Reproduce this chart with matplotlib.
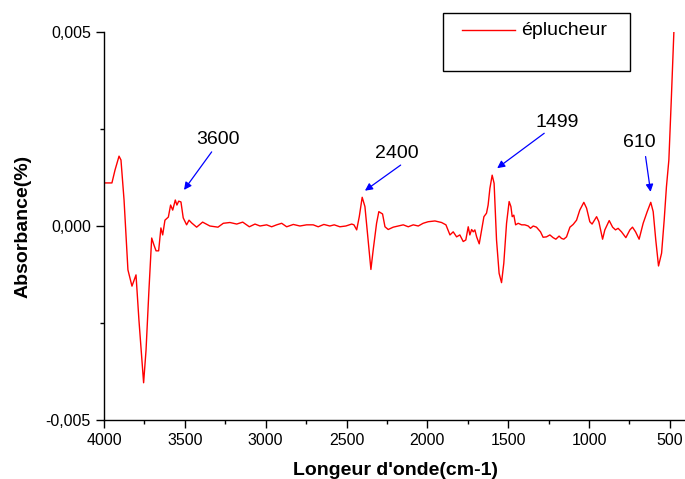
import numpy as np
import matplotlib
matplotlib.use('Agg')
import matplotlib.pyplot as plt
from matplotlib.ticker import MultipleLocator, FuncFormatter
from matplotlib.patches import Rectangle

plt.rcParams['font.family'] = ['Liberation Sans', 'DejaVu Sans']

# spectrum (wavenumber in cm-1, absorbance)
wavenumber = [4000, 3951, 3932, 3907, 3895, 3876, 3852, 3827, 3802, 3784, 3755, 3740, 3722, 3705,
              3691, 3678, 3662, 3648, 3637, 3623, 3602, 3588, 3575, 3559, 3549, 3538, 3524, 3510,
              3489, 3474, 3458, 3427, 3390, 3345, 3295, 3262, 3221, 3179, 3142, 3101, 3066, 3035,
              2994, 2963, 2932, 2901, 2870, 2829, 2788, 2747, 2706, 2675, 2640, 2603, 2576, 2541,
              2504, 2468, 2454, 2437, 2421, 2403, 2386, 2366, 2349, 2335, 2314, 2300, 2277, 2262,
              2242, 2211, 2180, 2149, 2118, 2087, 2056, 2026, 1995, 1953, 1912, 1885, 1860, 1840,
              1819, 1799, 1778, 1762, 1747, 1737, 1726, 1716, 1706, 1695, 1679, 1664, 1650, 1634,
              1624, 1613, 1599, 1587, 1572, 1556, 1541, 1527, 1510, 1494, 1483, 1475, 1465, 1454,
              1438, 1417, 1397, 1376, 1362, 1345, 1325, 1300, 1284, 1263, 1242, 1222, 1205, 1185,
              1170, 1156, 1139, 1118, 1098, 1077, 1057, 1032, 1015, 995, 981, 953, 939, 916, 902,
              875, 854, 836, 820, 799, 772, 747, 731, 712, 690, 665, 640, 618, 603, 587, 570, 551,
              535, 521, 506, 491, 475]
absorbance = [0.00111, 0.00111, 0.00144, 0.00180, 0.00170, 0.00067, -0.00113, -0.00155, -0.00126,
              -0.00242, -0.00404, -0.00320, -0.00165, -0.00031, -0.00049, -0.00064, -0.00064,
              -0.00005, -0.00023, 0.00015, 0.00023, 0.00054, 0.00041, 0.00067, 0.00054, 0.00064,
              0.00062, 0.00021, 0.00003, 0.00015, 0.00008, -0.00003, 0.00010, 0.0, -0.00003,
              0.00007, 0.00009, 0.00005, 0.00010, -0.00002, 0.00005, 0.0, 0.00003, -0.00002,
              0.00003, 0.00007, -0.00002, 0.00004, 0.0, 0.00003, 0.00003, -0.00002, 0.00004, 0.0,
              0.00003, -0.00002, 0.0, 0.00005, 0.00003, -0.00010, 0.00024, 0.00074, 0.00050,
              -0.00036, -0.00112, -0.00062, 0.00007, 0.00037, 0.00031, -0.00002, -0.00009,
              -0.00003, 0.0, 0.00003, -0.00002, 0.00003, 0.0, 0.00007, 0.00011, 0.00013, 0.00009,
              0.00003, -0.00023, -0.00015, -0.00028, -0.00023, -0.00040, -0.00036, -0.00002,
              -0.00023, -0.00009, -0.00015, -0.00010, -0.00028, -0.00046, -0.00010, 0.00024,
              0.00033, 0.00054, 0.00097, 0.00131, 0.00110, -0.00036, -0.00122, -0.00146, -0.00096,
              0.00007, 0.00063, 0.00050, 0.00024, 0.00028, 0.00003, 0.00007, 0.00003, 0.00003, 0.0,
              -0.00006, 0.0, -0.00003, -0.00015, -0.00029, -0.00028, -0.00023, -0.00030, -0.00034,
              -0.00026, -0.00032, -0.00034, -0.00028, -0.00003, 0.00004, 0.00015, 0.00041, 0.00061,
              0.00046, 0.00011, 0.00005, 0.00024, 0.00011, -0.00034, -0.00010, 0.00014, -0.00003,
              -0.00010, -0.00006, -0.00015, -0.00030, -0.00010, -0.00003, -0.00015, -0.00034,
              0.00007, 0.00037, 0.00061, 0.00037, -0.00036, -0.00103, -0.00070, 0.00015, 0.00101,
              0.00170, 0.00325, 0.00500]

# peak labels: text, arrow head (peak), arrow tail, text centre
peak_labels = ['3600', '2400', '1499', '610']
peak_head = [(3505, 0.00093), (2386, 0.00091), (1568, 0.00149), (619, 0.00088)]
peak_tail = [(3334, 0.00191), (2165, 0.00157), (1277, 0.00239), (650, 0.00179)]
peak_text = [(3297, 0.00223), (2188, 0.00186), (1197, 0.00266), (686, 0.00214)]

fig = plt.figure(figsize=(6.85, 4.79), dpi=100)
ax = fig.add_axes([104/685, 59/479, 582/685, 388/479])

ax.plot(wavenumber, absorbance, color='red', lw=1, solid_joinstyle='round')

for lab, head, tail, txt in zip(peak_labels, peak_head, peak_tail, peak_text):
    ax.annotate('', xy=head, xytext=tail,
                arrowprops=dict(arrowstyle='-|>', color='blue', lw=0.9,
                                mutation_scale=11, shrinkA=0, shrinkB=0))
    ax.text(txt[0], txt[1], lab, fontsize=14, ha='center', va='center')

ax.set_xlim(4000, 400)
ax.set_ylim(-0.005, 0.005)
ax.xaxis.set_major_locator(MultipleLocator(500))
ax.xaxis.set_minor_locator(MultipleLocator(250))
ax.yaxis.set_major_locator(MultipleLocator(0.005))
ax.yaxis.set_minor_locator(MultipleLocator(0.0025))
ax.yaxis.set_major_formatter(FuncFormatter(lambda v, p: ('%.3f' % v).replace('.', ',').replace('-0,000', '0,000')))
ax.tick_params(which='major', direction='out', length=6, width=1, labelsize=11.5)
ax.tick_params(which='minor', direction='out', length=3, width=1)

for s in ['top', 'right']:
    ax.spines[s].set_visible(False)
for s in ['left', 'bottom']:
    ax.spines[s].set_linewidth(1)

ax.set_xlabel("Longeur d'onde(cm-1)", fontsize=14, fontweight='bold', labelpad=10)
ax.set_ylabel('Absorbance(%)', fontsize=14, fontweight='bold', labelpad=10)

# legend box drawn like the original (entry at the top, empty space below)
ax.add_patch(Rectangle((0.5825, 0.8995), 0.3213, 0.1495, transform=ax.transAxes,
                       facecolor='white', edgecolor='black', lw=1, clip_on=False, zorder=5))
ax.plot([0.615, 0.706], [1.005, 1.005], transform=ax.transAxes, color='red', lw=1,
        clip_on=False, zorder=6)
ax.text(0.7165, 1.005, 'éplucheur', transform=ax.transAxes, fontsize=14, va='center',
        ha='left', zorder=6)

fig.savefig('out.png', dpi=100)
